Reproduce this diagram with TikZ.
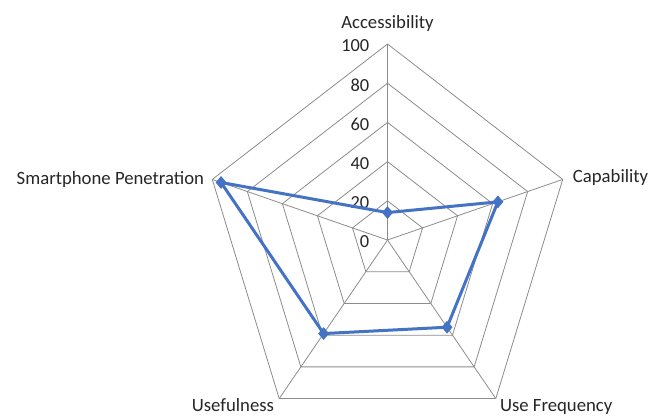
\documentclass[tikz,border=0pt]{standalone}
\usepackage{fontspec}
\setmainfont{Carlito}
\usetikzlibrary{shapes.geometric,calc}
\definecolor{ser}{HTML}{4472C4}
\begin{document}
\begin{tikzpicture}[x=1bp,y=-1bp,
  grid/.style={draw=black!45,line width=0.8bp},
  series/.style={draw=ser,line width=3bp,line join=round},
  mk/.style={diamond,fill=ser,inner sep=0pt,minimum width=11bp,minimum height=13bp},
  lab/.style={font=\fontsize{18.8}{20}\selectfont,text=black!85,inner sep=0pt},
  tick/.style={font=\fontsize{18.5}{20}\selectfont,text=black!85,inner sep=0pt,anchor=east}]
\useasboundingbox (0,0) rectangle (649,415);
\coordinate (C) at (387.5,240);
\def\R{196}
\def\SX{0.94}
% grid rings and spokes
\foreach \i/\a in {0/90,1/18,2/-54,3/-126,4/162}{
  \foreach \k in {1,...,5}{
    \coordinate (p\i-\k) at ($(C)+({\k/5*\SX*\R*cos(\a)},{-\k/5*\R*sin(\a)})$);
  }
}
\foreach \k in {1,...,5}{
  \draw[grid] (p0-\k) -- (p1-\k) -- (p2-\k) -- (p3-\k) -- (p4-\k) -- cycle;
}
\foreach \i in {0,...,4}{ \draw[grid] (C) -- (p\i-5); }
% tick labels
\foreach \k/\v in {0/0,1/20,2/40,3/60,4/80,5/100}{
  \node[tick] (t\v) at ($(C)+(-18,{-\R*\k/5+2})$) {\v};
}
% axis labels
\node[lab,anchor=base] (lA) at ($(p0-5)+(0,-16)$) {Accessibility};
\node[lab,anchor=west] (lB) at ($(p1-5)+(10,-2)$) {Capability};
\node[lab,anchor=base west] (lC) at ($(p2-5)+(4,12.5)$) {Use Frequency};
\node[lab,anchor=base east] (lD) at ($(p3-5)+(-5,12.5)$) {Usefulness};
\node[lab,anchor=east] (lE) at ($(p4-5)+(-8,0)$) {Smartphone Penetration};
% data series
\foreach \i/\a/\v in {0/90/14,1/18/63,2/-54/55,3/-126/59,4/162/95}{
  \coordinate (d\i) at ($(C)+({\v/100*\SX*\R*cos(\a)},{-\v/100*\R*sin(\a)})$);
}
\draw[series] (d0) -- (d1) -- (d2) -- (d3) -- (d4) -- cycle;
\foreach \i in {0,...,4}{ \node[mk] (m\i) at (d\i) {}; }
\end{tikzpicture}
\end{document}
